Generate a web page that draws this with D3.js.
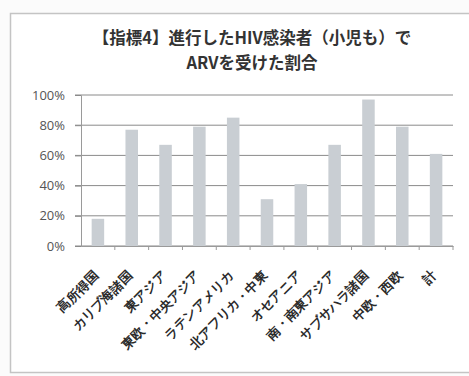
<!DOCTYPE html>
<html>
<head>
<meta charset="utf-8">
<script src="https://cdn.jsdelivr.net/npm/d3@7"></script>
<style>
  body { margin: 0; background: #fbfbfb; }
  svg { display: block; font-family: "Noto Sans CJK JP", "Noto Sans", sans-serif; }
</style>
</head>
<body>
<svg width="469" height="376"></svg>
<script>
var regions = ["高所得国", "カリブ海諸国", "東アジア", "東欧・中央アジア", "ラテンアメリカ",
    "北アフリカ・中東", "オセアニア", "南・南東アジア", "サブサハラ諸国", "中欧・西欧", "計"];
var arvShare = [0.18, 0.77, 0.67, 0.79, 0.85, 0.31, 0.41, 0.67, 0.97, 0.79, 0.61];
var yTicks = [0, 0.2, 0.4, 0.6, 0.8, 1.0];
var titleLines = ["【指標4】進行したHIV感染者（小児も）で", "ARVを受けた割合"];

var svg = d3.select("svg"),
    width = +svg.attr("width"),
    height = +svg.attr("height");

// 枠
svg.append("rect")
    .attr("x", 10.5).attr("y", 13.5)
    .attr("width", 470).attr("height", 359)
    .attr("fill", "#fff")
    .attr("stroke", "#c4c4c4")
    .attr("stroke-width", 1.5);

var x = d3.scaleBand().domain(regions).range([81, 453]).paddingInner(0.63).paddingOuter(0.315);
var y = d3.scaleLinear().domain([0, 1]).range([246, 95]);

// グリッド
svg.append("g")
    .selectAll("line")
    .data(yTicks)
    .enter()
    .append("line")
    .attr("x1", 75).attr("x2", 453)
    .attr("y1", d => y(d)).attr("y2", d => y(d))
    .attr("stroke", "#8a8a8a")
    .attr("stroke-width", 1);

// 棒
svg.append("g")
    .selectAll("rect")
    .data(arvShare)
    .enter()
    .append("rect")
    .attr("x", (d, i) => x(regions[i]))
    .attr("y", d => y(d))
    .attr("width", x.bandwidth())
    .attr("height", d => y(0) - y(d))
    .attr("fill", "#c9ced3");

// Y軸
var yAxis = svg.append("g")
    .attr("transform", "translate(81,0)")
    .call(d3.axisLeft(y).tickValues(yTicks).tickFormat(d3.format(".0%")).tickSize(6).tickPadding(10));
yAxis.select(".domain").attr("stroke", "#9a9a9a");
yAxis.selectAll(".tick line").attr("stroke", "#8a8a8a");
yAxis.selectAll("text")
    .attr("fill", "#555")
    .attr("font-size", 13)
    .attr("font-family", "Open Sans, sans-serif");

// X軸
var step = x.step();
var xAxis = svg.append("g")
    .attr("transform", "translate(0," + y(0) + ")")
    .call(d3.axisBottom(x).tickSize(0).tickPadding(0));
xAxis.select(".domain").attr("stroke", "#9a9a9a");
xAxis.selectAll(".tick").each(function(d) {
    d3.select(this).append("line")
        .attr("x1", step / 2).attr("x2", step / 2)
        .attr("y1", 0).attr("y2", 4)
        .attr("stroke", "#9a9a9a");
});
xAxis.selectAll("text")
    .attr("fill", "#2a2a2a")
    .attr("font-size", 13)
    .attr("font-weight", "bold")
    .attr("text-anchor", "end")
    .attr("x", 0).attr("y", 0)
    .attr("dy", "0.35em")
    .attr("transform", "translate(-2,27) rotate(-45)");

// タイトル
svg.append("g")
    .selectAll("text")
    .data(titleLines)
    .enter()
    .append("text")
    .attr("x", 252)
    .attr("y", (d, i) => 44 + i * 25)
    .attr("text-anchor", "middle")
    .attr("font-size", 16.5)
    .attr("font-weight", "bold")
    .attr("fill", "#333")
    .text(d => d);
</script>
</body>
</html>
